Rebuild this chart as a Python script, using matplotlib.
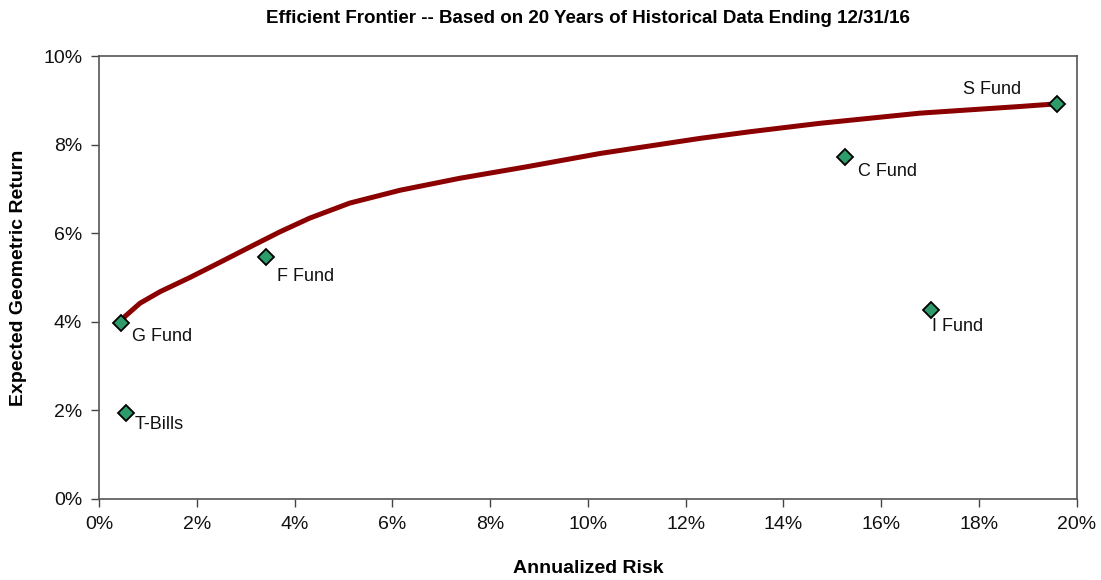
import matplotlib
matplotlib.use("Agg")
import matplotlib.pyplot as plt
from matplotlib.ticker import FuncFormatter

plt.rcParams['font.family'] = ['Liberation Sans', 'DejaVu Sans']

# efficient frontier (risk %, return %)
frontier_risk = [0.45, 0.53, 0.84, 1.25, 1.86, 2.47, 3.09, 3.70, 4.31, 5.13, 6.16,
                 7.38, 8.75, 10.25, 12.29, 13.31, 14.74, 16.79, 18.83, 19.59]
frontier_ret = [3.98, 4.12, 4.42, 4.68, 5.00, 5.34, 5.69, 6.03, 6.34, 6.68, 6.97,
                7.24, 7.50, 7.80, 8.14, 8.29, 8.48, 8.71, 8.86, 8.92]

funds = ["G Fund", "T-Bills", "F Fund", "C Fund", "I Fund", "S Fund"]
fund_risk = [0.45, 0.55, 3.42, 15.26, 17.03, 19.59]
fund_ret = [3.98, 1.94, 5.46, 7.72, 4.27, 8.92]
label_offsets = [(11, -14), (9, -11), (11, -19), (13, -14), (1, -17), (-36, 14)]
label_ha = ["left", "left", "left", "left", "left", "right"]

fig = plt.figure(figsize=(11.01, 5.8), dpi=100)
ax = fig.add_axes([0.0899, 0.1397, 0.888, 0.7637])

ax.plot(frontier_risk, frontier_ret, color='#8B0000', lw=3.6,
        solid_capstyle='round', solid_joinstyle='round', zorder=2)
ax.plot(fund_risk, fund_ret, ls='none', marker='D', markersize=8.5,
        markerfacecolor='#2E9B6B', markeredgecolor='black', markeredgewidth=1.3, zorder=3)

for name, x, y, off, ha in zip(funds, fund_risk, fund_ret, label_offsets, label_ha):
    ax.annotate(name, (x, y), xytext=off, textcoords='offset pixels',
                ha=ha, va='center', fontsize=13, color='#111111')

ax.set_xlim(0, 20)
ax.set_ylim(0, 10)
ax.set_xticks(range(0, 21, 2))
ax.set_yticks(range(0, 11, 2))
pct = FuncFormatter(lambda v, p: f"{v:.0f}%")
ax.xaxis.set_major_formatter(pct)
ax.yaxis.set_major_formatter(pct)
ax.tick_params(direction='out', length=6, width=1, colors='#444444', labelcolor='#111111',
               labelsize=14, pad=6)

for s in ax.spines.values():
    s.set_color('#555555')
    s.set_linewidth(1.2)

ax.set_xlabel("Annualized Risk", fontsize=14, fontweight='bold', labelpad=20)
ax.set_ylabel("Expected Geometric Return", fontsize=14, fontweight='bold', labelpad=12)
ax.set_title("Efficient Frontier -- Based on 20 Years of Historical Data Ending 12/31/16",
             fontsize=13.5, fontweight='bold', pad=24)

fig.savefig("out.png", dpi=100)
